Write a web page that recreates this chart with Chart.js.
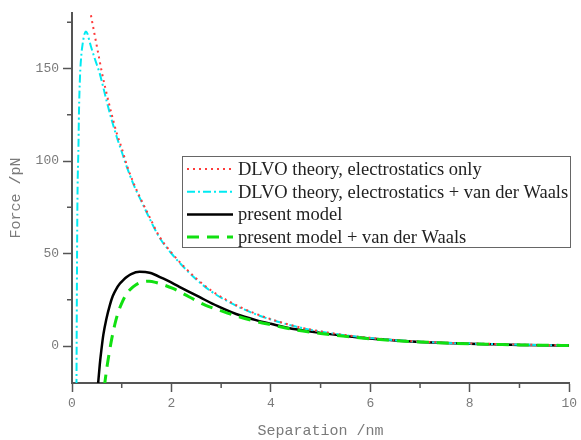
<!DOCTYPE html>
<html>
<head>
<meta charset="utf-8">
<script src="https://cdn.jsdelivr.net/npm/chart.js@4"></script>
<style>
  html, body { margin: 0; padding: 0; background: #fff; }
  #wrap { width: 581px; height: 440px; }
</style>
</head>
<body>
<div id="wrap"><canvas id="myChart"></canvas></div>
<script>
// separation in nm, force in pN
const sepElec = [0.36, 0.40, 0.45, 0.50, 0.55, 0.60, 0.70, 0.80, 0.90, 1.00, 1.10, 1.25, 1.40, 1.55, 1.75, 2.00, 2.25, 2.50, 2.80, 3.10, 3.40, 3.70, 4.00, 4.50, 5.00, 5.50, 6.00, 6.50, 7.00, 7.50, 8.00, 8.50, 9.00, 9.50, 10.0];
const forceElec = [182, 176, 169, 162, 155, 148, 136, 125, 115, 107, 98, 87.3, 78.5, 70.3, 59.5, 50.5, 43, 36.5, 30, 25, 20.8, 17.4, 14.5, 10.6, 7.9, 5.9, 4.4, 3.2, 2.4, 1.8, 1.4, 1.1, 0.8, 0.5, 0.3];

const sepElecVdw = [0.09, 0.10, 0.11, 0.13, 0.14, 0.16, 0.19, 0.21, 0.23, 0.25, 0.28, 0.31, 0.34, 0.38, 0.45, 0.50, 0.55, 0.60, 0.70, 0.80, 0.90, 1.00, 1.10, 1.25, 1.40, 1.55, 1.75, 2.00, 2.25, 2.50, 2.80, 3.10, 3.40, 3.70, 4.00, 4.50, 5.00, 5.50, 6.00, 6.50, 7.00, 7.50, 8.00, 8.50, 9.00, 9.50, 10.0];
const forceElecVdw = [-22, 40, 80, 108, 126, 145, 158, 162.5, 166, 168.5, 170, 168.8, 166, 162, 156, 152, 148, 143, 132, 122, 113, 105, 97, 86.5, 78, 69.5, 59, 50, 42.5, 36, 29.5, 24.6, 20.5, 17.1, 14.3, 10.5, 7.8, 5.8, 4.3, 3.1, 2.3, 1.7, 1.3, 1.0, 0.7, 0.5, 0.3];

const sepModel = [0.52, 0.56, 0.59, 0.63, 0.69, 0.76, 0.82, 0.89, 0.96, 1.03, 1.10, 1.19, 1.36, 1.56, 1.83, 2.16, 2.56, 2.93, 3.30, 3.70, 4.00, 4.50, 5.00, 5.50, 6.00, 6.50, 7.00, 7.50, 8.00, 8.50, 9.00, 9.50, 10.0];
const forceModel = [-22, -9.7, -2.4, 6.0, 14.5, 22.0, 27, 30.8, 33.6, 35.6, 37.3, 38.9, 40.1, 39.6, 36.5, 32, 26.5, 21.5, 17.3, 14, 12, 9.0, 7.1, 5.4, 4.0, 3.0, 2.2, 1.6, 1.2, 0.9, 0.6, 0.4, 0.3];

const sepModelVdw = [0.65, 0.70, 0.75, 0.80, 0.86, 0.92, 0.99, 1.07, 1.16, 1.28, 1.43, 1.55, 1.69, 2.03, 2.36, 2.69, 3.00, 3.30, 3.70, 4.00, 4.50, 5.00, 5.50, 6.00, 6.50, 7.00, 7.50, 8.00, 8.50, 9.00, 9.50, 10.0];
const forceModelVdw = [-22, -12, -3.5, 4, 11.5, 17.5, 22.5, 27, 30.3, 33, 34.7, 35, 34.3, 31.1, 26.5, 22, 19, 16.3, 13.3, 11.5, 8.7, 6.8, 5.2, 3.9, 2.9, 2.2, 1.6, 1.2, 0.9, 0.6, 0.4, 0.3];

const seriesLabels = [
  'DLVO theory, electrostatics only',
  'DLVO theory, electrostatics + van der Waals',
  'present model',
  'present model + van der Waals'
];

const xTicks = [0, 1, 2, 3, 4, 5, 6, 7, 8, 9, 10];
const yTicks = [0, 25, 50, 75, 100, 125, 150, 175];

const pts = (xs, ys) => xs.map((x, i) => ({ x: x, y: ys[i] }));

const axisColor = '#555';
const labelColor = '#7a7a7a';

// minor ticks (shorter) + legend box drawn inside the plot
const extras = {
  id: 'extras',
  afterDraw(chart) {
    const ctx = chart.ctx;
    const xs = chart.scales.x, ys = chart.scales.y;
    ctx.save();
    ctx.strokeStyle = axisColor;
    ctx.lineWidth = 1.5;
    ctx.beginPath();
    xTicks.filter(v => v % 2 !== 0).forEach(v => {
      const px = xs.getPixelForValue(v);
      ctx.moveTo(px, xs.top);
      ctx.lineTo(px, xs.top + 5);
    });
    yTicks.filter(v => v % 50 !== 0).forEach(v => {
      const py = ys.getPixelForValue(v);
      ctx.moveTo(ys.right, py);
      ctx.lineTo(ys.right - 5, py);
    });
    ctx.stroke();

    // legend
    const bx = 182, by = 156, bw = 388, bh = 91;
    ctx.fillStyle = '#fff';
    ctx.fillRect(bx, by, bw, bh);
    ctx.strokeStyle = '#666';
    ctx.lineWidth = 1;
    ctx.strokeRect(bx + 0.5, by + 0.5, bw, bh);
    ctx.font = '18.5px "Liberation Serif", serif';
    ctx.textBaseline = 'middle';
    chart.data.datasets.forEach((ds, i) => {
      const y = by + 13 + i * 22.7;
      ctx.save();
      ctx.strokeStyle = ds.borderColor;
      ctx.lineWidth = ds.borderWidth;
      ctx.lineCap = ds.borderCapStyle || 'butt';
      ctx.setLineDash(ds.borderDash || []);
      ctx.beginPath();
      ctx.moveTo(bx + 5, y);
      ctx.lineTo(bx + 51, y);
      ctx.stroke();
      ctx.restore();
      ctx.fillStyle = '#222';
      ctx.fillText(ds.label, bx + 56, y + 1);
    });
    ctx.restore();
  }
};

const ctx = document.getElementById('myChart');

new Chart(ctx, {
  type: 'scatter',
  data: {
    datasets: [{
      label: seriesLabels[0],
      data: pts(sepElec, forceElec),
      borderColor: '#ff3b3b',
      borderWidth: 2,
      borderDash: [2, 4],
      order: 1
    }, {
      label: seriesLabels[1],
      data: pts(sepElecVdw, forceElecVdw),
      borderColor: '#00eaf2',
      borderWidth: 2,
      borderDash: [8, 3, 2, 3],
      order: 2
    }, {
      label: seriesLabels[2],
      data: pts(sepModel, forceModel),
      borderColor: '#000',
      borderWidth: 2.5,
      order: 3
    }, {
      label: seriesLabels[3],
      data: pts(sepModelVdw, forceModelVdw),
      borderColor: '#11e011',
      borderWidth: 3,
      borderDash: [12, 8],
      order: 0
    }]
  },
  options: {
    responsive: true,
    maintainAspectRatio: false,
    animation: false,
    showLine: true,
    elements: {
      point: { radius: 0, hoverRadius: 0 },
      line: { cubicInterpolationMode: 'monotone', fill: false }
    },
    layout: { padding: { left: 0, right: 9, top: 13, bottom: 0 } },
    plugins: {
      legend: { display: false },
      tooltip: { enabled: false }
    },
    scales: {
      x: {
        type: 'linear',
        min: 0,
        max: 10,
        afterBuildTicks: s => { s.ticks = xTicks.map(v => ({ value: v })); },
        afterFit: s => { s.height = 57; },
        border: { color: axisColor, width: 2 },
        grid: {
          drawOnChartArea: false,
          tickLength: 9,
          tickWidth: 1.5,
          tickColor: c => (c.tick && c.tick.value % 2 === 0) ? axisColor : 'rgba(0,0,0,0)'
        },
        ticks: {
          padding: 4,
          color: labelColor,
          font: { family: '"Liberation Mono", monospace', size: 13 },
          maxRotation: 0,
          callback: v => (v % 2 === 0 ? String(v) : '')
        },
        title: {
          display: true,
          text: 'Separation /nm',
          color: labelColor,
          font: { family: '"Liberation Mono", monospace', size: 15 },
          padding: { top: 0, bottom: 0 }
        }
      },
      y: {
        type: 'linear',
        min: -20,
        max: 180,
        afterBuildTicks: s => { s.ticks = yTicks.map(v => ({ value: v })); },
        afterFit: s => { s.width = 72; },
        border: { color: axisColor, width: 2 },
        grid: {
          drawOnChartArea: false,
          tickLength: 9,
          tickWidth: 1.5,
          tickColor: c => (c.tick && c.tick.value % 50 === 0) ? axisColor : 'rgba(0,0,0,0)'
        },
        ticks: {
          padding: 4,
          color: labelColor,
          font: { family: '"Liberation Mono", monospace', size: 13 },
          callback: v => (v % 50 === 0 ? String(v) : '')
        },
        title: {
          display: true,
          text: 'Force /pN',
          color: labelColor,
          font: { family: '"Liberation Mono", monospace', size: 15 },
          padding: { top: 7, bottom: 0 }
        }
      }
    }
  },
  plugins: [extras]
});
</script>
</body>
</html>
